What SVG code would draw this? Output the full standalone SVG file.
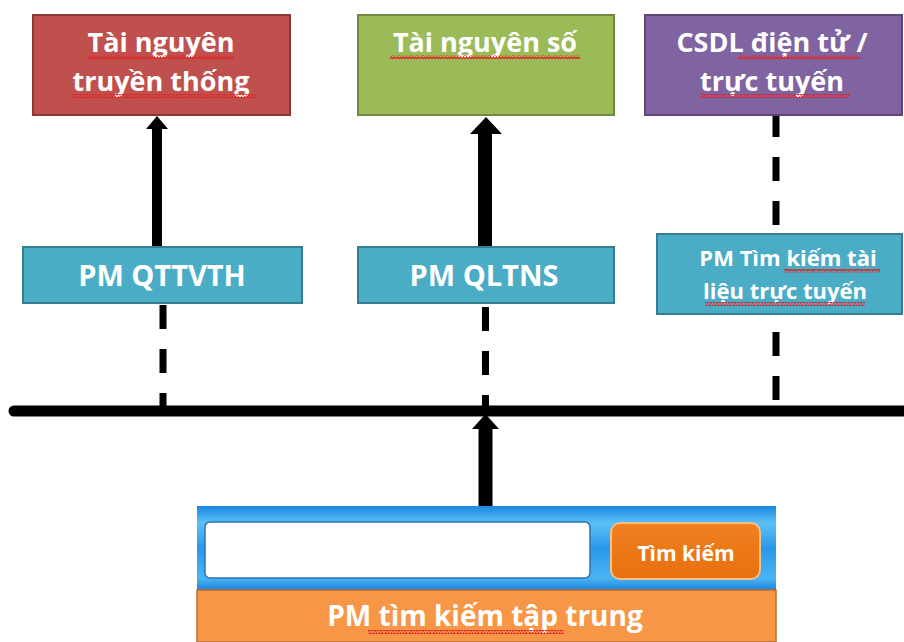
<svg xmlns="http://www.w3.org/2000/svg" width="904" height="642" viewBox="0 0 904 642">
<style>
.t{font-family:"Open Sans","Noto Sans","DejaVu Sans",sans-serif;font-weight:700;fill:#ffffff;text-anchor:middle}
.box{stroke-width:2}
.dash{stroke:#000;stroke-width:7;stroke-dasharray:24 20;fill:none}
.solid{stroke:#000;fill:none}
.wv{fill:url(#wave)}
</style>
<defs>
<pattern id="wave" patternUnits="userSpaceOnUse" width="6" height="4">
<path d="M0 3 L1.5 1 L3 3 L4.5 1 L6 3" fill="none" stroke="#e02828" stroke-width="1.3"/>
</pattern>
<linearGradient id="panel" x1="0" y1="0" x2="0" y2="1">
<stop offset="0" stop-color="#1a86e0"/>
<stop offset="0.2" stop-color="#5cc0f5"/>
<stop offset="0.5" stop-color="#2a98ea"/>
<stop offset="0.85" stop-color="#4ab4f2"/>
<stop offset="1" stop-color="#1b7fd8"/>
</linearGradient>
<linearGradient id="btn" x1="0" y1="0" x2="0" y2="1">
<stop offset="0" stop-color="#f08020"/>
<stop offset="1" stop-color="#e8700f"/>
</linearGradient>
</defs>
<rect width="904" height="642" fill="#ffffff"/>

<g id="connectors">
<line class="solid" x1="14" y1="411" x2="904" y2="411" stroke-width="11" stroke-linecap="round"/>
<line class="solid" x1="157" y1="248" x2="157" y2="127" stroke-width="10"/>
<polygon points="157,116 168,129 146,129" fill="#000"/>
<line class="solid" x1="485" y1="248" x2="485" y2="131" stroke-width="14"/>
<polygon points="486,117 502,134 470,134" fill="#000"/>
<line class="solid" x1="485.5" y1="506" x2="485.5" y2="426" stroke-width="14"/>
<polygon points="485.5,414 499,429 472,429" fill="#000"/>
<line class="dash" x1="163" y1="305" x2="163" y2="407"/>
<line class="dash" x1="485.5" y1="307" x2="485.5" y2="411"/>
<line class="dash" x1="776" y1="113" x2="776" y2="230"/>
<line class="dash" x1="776" y1="332" x2="776" y2="400"/>
</g>

<g id="n-truyenthong">
<rect class="box" x="33" y="15" width="257" height="100" fill="#c0504d" stroke="#8c3836"/>
<text class="t" x="161" y="52" font-size="27">Tài nguyên</text>
<text class="t" x="161" y="91" font-size="27">truyền thống</text>
<rect class="wv" x="87" y="55" width="147" height="4"/>
<rect class="wv" x="72" y="94" width="184" height="4"/>
</g>

<g id="n-so">
<rect class="box" x="358" y="15" width="256" height="100" fill="#9bbb59" stroke="#71893f"/>
<text class="t" x="485" y="52" font-size="27">Tài nguyên số</text>
<rect class="wv" x="390" y="55" width="190" height="4"/>
</g>

<g id="n-csdl">
<rect class="box" x="645" y="15" width="257" height="100" fill="#8064a2" stroke="#5c4776"/>
<text class="t" x="772" y="52" font-size="27">CSDL điện tử /</text>
<text class="t" x="772" y="91" font-size="27">trực tuyến</text>
<rect class="wv" x="738" y="55" width="122" height="4"/>
<rect class="wv" x="700" y="94" width="150" height="4"/>
</g>

<g id="n-qttvth">
<rect class="box" x="23" y="247" width="279" height="56" fill="#4bacc6" stroke="#357d91"/>
<text class="t" x="162" y="286" font-size="29">PM QTTVTH</text>
</g>

<g id="n-qltns">
<rect class="box" x="358" y="247" width="256" height="56" fill="#4bacc6" stroke="#357d91"/>
<text class="t" x="484" y="286" font-size="29">PM QLTNS</text>
</g>

<g id="n-timkiemtructuyen">
<rect class="box" x="657" y="234" width="245" height="80" fill="#4bacc6" stroke="#357d91"/>
<text class="t" x="788" y="266" font-size="22">PM Tìm kiếm tài</text>
<text class="t" x="785" y="299" font-size="22">liệu trực tuyến</text>
<rect class="wv" x="784" y="269" width="96" height="4"/>
<rect class="wv" x="705" y="302" width="160" height="4"/>
</g>

<g id="n-timkiemtaptrung">
<rect x="197" y="506" width="579" height="85" fill="url(#panel)"/>
<rect x="205" y="522" width="385" height="56" rx="5" fill="#ffffff" stroke="#2b73b8" stroke-width="1.5"/>
<rect x="611" y="523" width="149" height="56" rx="9" fill="url(#btn)" stroke="#f2c089" stroke-width="2"/>
<text class="t" x="686" y="561" font-size="21">Tìm kiếm</text>
<rect x="197" y="590" width="579" height="52" fill="#f79646" stroke="#b66d2f" stroke-width="1.5"/>
<text class="t" x="485" y="626" font-size="28">PM tìm kiếm tập trung</text>
<rect class="wv" x="368" y="630" width="196" height="4"/>
</g>
</svg>
